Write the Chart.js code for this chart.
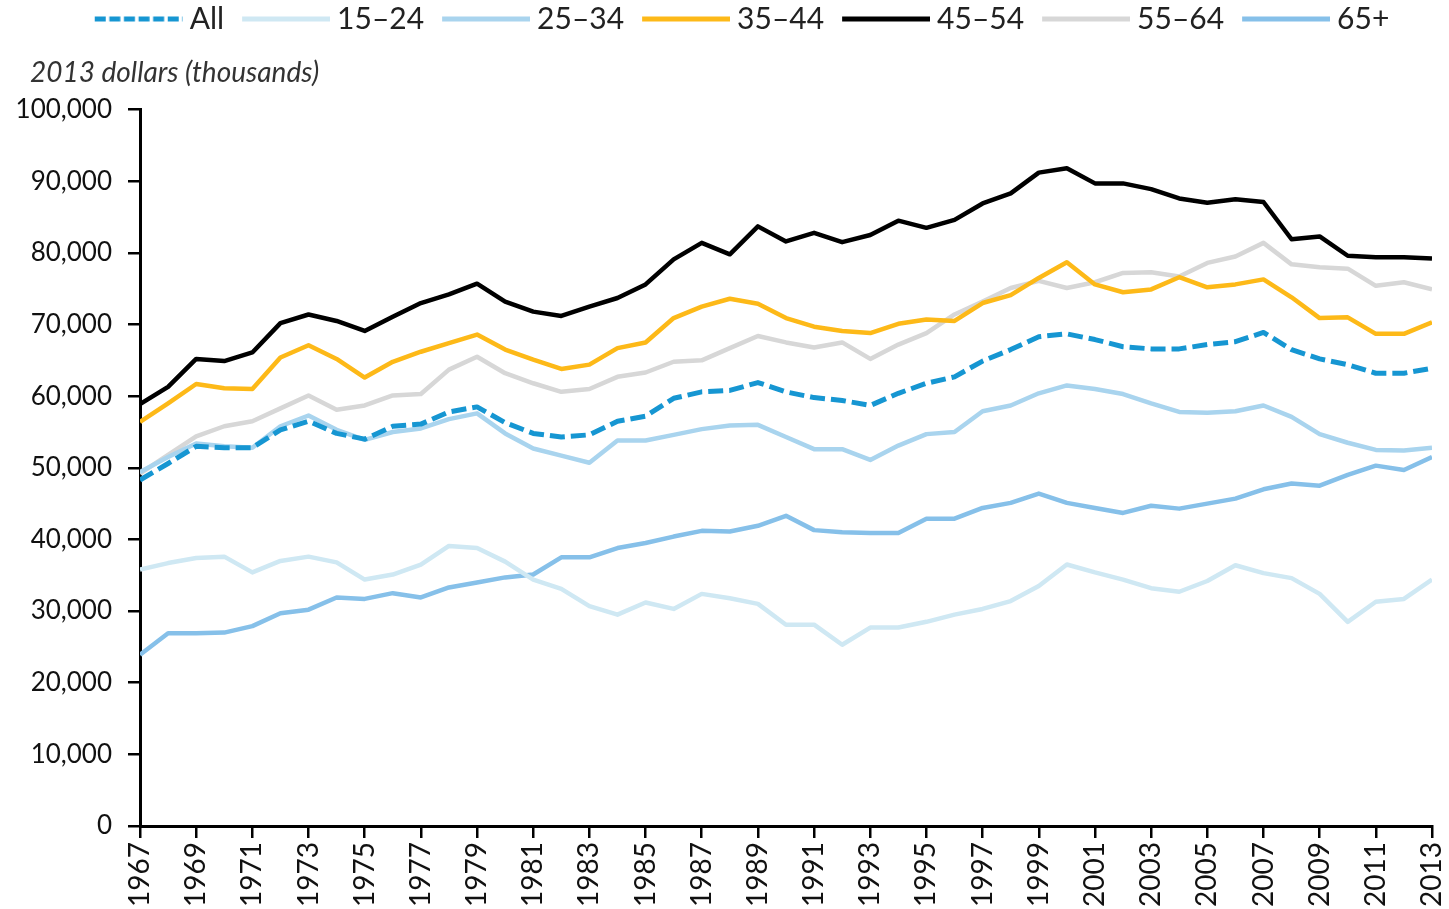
<!DOCTYPE html>
<html>
<head>
<meta charset="utf-8">
<script src="https://cdn.jsdelivr.net/npm/chart.js@4"></script>
<style>
  html, body { margin: 0; padding: 0; background: #fff; }
  #wrap { width: 1449px; height: 909px; }
</style>
</head>
<body>
<div id="wrap"><canvas id="c" width="1449" height="909"></canvas></div>
<script>
const years = [1967,1968,1969,1970,1971,1972,1973,1974,1975,1976,1977,1978,1979,1980,1981,1982,1983,1984,1985,1986,1987,1988,1989,1990,1991,1992,1993,1994,1995,1996,1997,1998,1999,2000,2001,2002,2003,2004,2005,2006,2007,2008,2009,2010,2011,2012,2013];

const seriesNames = ["All", "15–24", "25–34", "35–44", "45–54", "55–64", "65+"];

const allHouseholds = [48300,50600,53000,52800,52800,55300,56500,54800,54000,55800,56100,57800,58500,56300,54800,54300,54600,56500,57200,59700,60600,60800,61900,60600,59800,59400,58700,60400,61800,62700,64900,66500,68300,68700,67900,66900,66600,66600,67200,67600,68900,66500,65200,64400,63200,63200,63900];
const age15to24 = [35800,36700,37400,37600,35400,37000,37600,36800,34400,35100,36500,39100,38800,36900,34400,33100,30700,29500,31200,30300,32400,31800,31000,28100,28100,25300,27700,27700,28500,29500,30300,31400,33500,36500,35400,34400,33200,32700,34200,36400,35300,34600,32400,28500,31300,31700,34400];
const age25to34 = [49400,51500,53400,53000,52800,55800,57300,55300,53900,55000,55500,56800,57600,54800,52700,51700,50700,53800,53800,54600,55400,55900,56000,54300,52600,52600,51100,53100,54700,55000,57900,58700,60400,61500,61000,60300,59000,57800,57700,57900,58700,57100,54700,53500,52500,52400,52800];
const age35to44 = [56400,59000,61700,61100,61000,65400,67100,65200,62600,64800,66200,67400,68600,66500,65100,63800,64400,66700,67500,70900,72500,73600,72900,70900,69700,69100,68800,70100,70700,70500,73000,74100,76500,78700,75600,74500,74900,76600,75200,75600,76300,73800,70900,71000,68700,68700,70300];
const age45to54 = [58900,61300,65200,64900,66100,70200,71400,70500,69100,71100,73000,74200,75700,73200,71800,71200,72500,73700,75600,79100,81400,79800,83700,81600,82800,81500,82500,84500,83500,84600,86900,88300,91200,91800,89700,89700,88900,87600,87000,87500,87100,81900,82300,79600,79400,79400,79200];
const age55to64 = [49200,51800,54400,55800,56500,58300,60100,58100,58700,60100,60300,63700,65500,63200,61800,60600,61000,62700,63300,64800,65000,66700,68400,67500,66800,67500,65200,67200,68800,71400,73200,75100,76100,75100,75900,77200,77300,76700,78600,79500,81400,78400,78000,77800,75400,75900,74900];
const age65plus = [23900,26900,26900,27000,27900,29700,30200,31900,31700,32500,31900,33300,34000,34700,35100,37500,37500,38800,39500,40400,41200,41100,41900,43300,41300,41000,40900,40900,42900,42900,44400,45100,46400,45100,44400,43700,44700,44300,45000,45700,47000,47800,47500,49000,50300,49700,51500];

const yTicks = [0,10000,20000,30000,40000,50000,60000,70000,80000,90000,100000];
const xTicks = [1967,1969,1971,1973,1975,1977,1979,1981,1983,1985,1987,1989,1991,1993,1995,1997,1999,2001,2003,2005,2007,2009,2011,2013];
const yTitle = "2013 dollars (thousands)";

const seriesValues = [allHouseholds, age15to24, age25to34, age35to44, age45to54, age55to64, age65plus];
const colors = ["#1696d2", "#cfe8f3", "#a9d4ee", "#fdb918", "#000000", "#d7d7d7", "#86c0e9"];

// legend sample: a short line (dashed for "All") drawn into a small canvas
function legendSample(color, dashed) {
  const cv = document.createElement('canvas');
  cv.width = 110; cv.height = 8;
  const g = cv.getContext('2d');
  g.strokeStyle = color;
  g.lineWidth = 5;
  g.lineCap = 'butt';
  if (dashed) g.setLineDash([11, 3.6]);
  g.beginPath();
  g.moveTo(22, 4);
  g.lineTo(110, 4);
  g.stroke();
  return cv;
}

const datasets = seriesNames.map((name, i) => ({
  label: name,
  data: seriesValues[i],
  borderColor: colors[i],
  backgroundColor: colors[i],
  borderWidth: i === 0 ? 5 : 4.5,
  borderDash: i === 0 ? [15, 6] : [],
  borderCapStyle: 'butt',
  borderJoinStyle: 'round',
  pointStyle: legendSample(colors[i], i === 0),
  pointRadius: 0,
  pointHoverRadius: 0,
  tension: 0,
  fill: false
}));

const FONT = "Lato, 'Open Sans', sans-serif";

const shiftBoxes = {
  id: 'shiftBoxes',
  afterLayout(chart) {
    if (chart.titleBlock) { chart.titleBlock.left += 30; chart.titleBlock.right += 30; }
    if (chart.legend) { chart.legend.left += 19; chart.legend.right += 19; }
  }
};

new Chart(document.getElementById('c'), {
  type: 'line',
  data: { labels: years, datasets },
  plugins: [shiftBoxes],
  options: {
    responsive: false,
    animation: false,
    devicePixelRatio: 1,
    layout: { padding: { left: 0, right: 17, top: 0, bottom: 0 } },
    plugins: {
      legend: {
        position: 'top',
        weight: 3000,
        labels: {
          usePointStyle: true,
          pointStyleWidth: 94,
          padding: 4,
          color: '#222',
          font: { family: FONT, size: 30 }
        }
      },
      title: {
        display: true,
        text: yTitle,
        align: 'start',
        weight: 2000,
        color: '#333',
        font: { family: FONT, size: 28, style: 'italic', weight: 'normal', lineHeight: 1.2 },
        padding: { top: 12, bottom: 20 }
      },
      tooltip: { enabled: false }
    },
    scales: {
      x: {
        type: 'linear',
        min: years[0],
        max: years[years.length - 1],
        afterFit: (s) => { s.height = 83; s.paddingLeft = 0; s.paddingRight = 0; },
        afterBuildTicks: (s) => { s.ticks = xTicks.map(v => ({ value: v })); },
        ticks: {
          autoSkip: false,
          maxRotation: 90,
          minRotation: 90,
          padding: 4,
          color: '#111',
          font: { family: FONT, size: 28 },
          callback: (v) => String(v)
        },
        grid: { drawOnChartArea: false, drawTicks: true, tickLength: 12, color: '#000', lineWidth: 2.5 },
        border: { display: true, color: '#000', width: 3 }
      },
      y: {
        min: 0,
        max: 100000,
        afterFit: (s) => { s.width = 140; },
        afterBuildTicks: (s) => { s.ticks = yTicks.map(v => ({ value: v })); },
        ticks: {
          padding: 16,
          color: '#111',
          font: { family: FONT, size: 26 },
          callback: (v) => Number(v).toLocaleString('en-US')
        },
        grid: { drawOnChartArea: false, drawTicks: true, tickLength: 12, color: '#000', lineWidth: 2.5 },
        border: { display: true, color: '#000', width: 3 }
      }
    }
  }
});
</script>
</body>
</html>
